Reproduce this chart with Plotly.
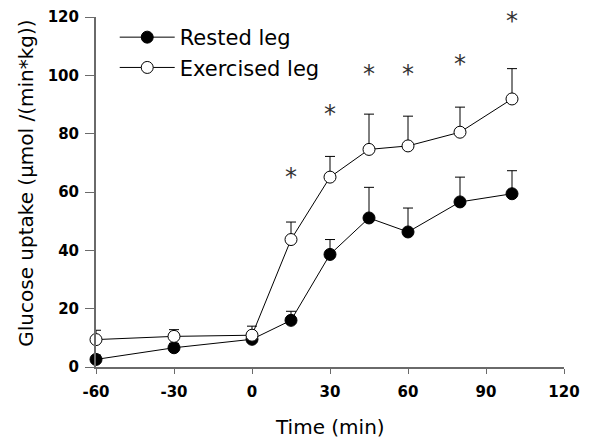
import plotly.graph_objects as go

time_min = [-60, -30, 0, 15, 30, 45, 60, 80, 100]
rested = [2.6, 6.6, 9.5, 16.0, 38.6, 51.1, 46.3, 56.6, 59.4]
rested_sem = [1.5, 1.5, 1.5, 3.1, 5.1, 10.5, 8.2, 8.5, 7.9]
exercised = [9.4, 10.5, 10.9, 43.7, 65.1, 74.6, 75.8, 80.5, 91.9]
exercised_sem = [3.2, 2.3, 3.1, 6.0, 7.1, 12.1, 10.2, 8.6, 10.4]
star_x = [15, 30, 45, 60, 80, 100]
star_y = [66.0, 87.3, 101.0, 101.0, 104.6, 119.4]
x_ticks = [-60, -30, 0, 30, 60, 90, 120]
y_ticks = [0, 20, 40, 60, 80, 100, 120]

FONT = "DejaVu Sans"
AX = "#6a6a6a"

fig = go.Figure()
fig.add_trace(go.Scatter(
    x=time_min, y=rested, mode="lines+markers", name="Rested leg",
    line=dict(color="black", width=1),
    marker=dict(symbol="circle", size=12, color="black", line=dict(color="black", width=1)),
    error_y=dict(type="data", symmetric=False, array=rested_sem,
                 arrayminus=[0] * len(rested_sem), color="black", thickness=1, width=5),
    cliponaxis=False,
))
fig.add_trace(go.Scatter(
    x=time_min, y=exercised, mode="lines+markers", name="Exercised leg",
    line=dict(color="black", width=1),
    marker=dict(symbol="circle", size=12, color="white", line=dict(color="black", width=1)),
    error_y=dict(type="data", symmetric=False, array=exercised_sem,
                 arrayminus=[0] * len(exercised_sem), color="black", thickness=1, width=5),
    cliponaxis=False,
))

for sx, sy in zip(star_x, star_y):
    fig.add_annotation(x=sx, y=sy, text="*", showarrow=False, yanchor="middle",
                       xanchor="center", yshift=-2,
                       font=dict(family=FONT, size=24, color="#333333"))

# axis titles
fig.add_annotation(xref="paper", yref="paper", x=0.5, y=-0.172, text="Time (min)",
                   showarrow=False, xanchor="center", yanchor="middle",
                   font=dict(family=FONT, size=20, color="black"))
fig.add_annotation(xref="paper", yref="paper", x=-0.15, y=0.526,
                   text="Glucose uptake (µmol /(min*kg))", textangle=-90,
                   showarrow=False, xanchor="center", yanchor="middle",
                   font=dict(family=FONT, size=20, color="black"))

fig.update_layout(
    width=581, height=432,
    margin=dict(l=88, r=25, t=9, b=73, autoexpand=False),
    paper_bgcolor="white", plot_bgcolor="white",
    font=dict(family=FONT, color="black"),
    showlegend=True,
    legend=dict(x=0.04, y=1.0, xanchor="left", yanchor="top",
                bgcolor="rgba(0,0,0,0)", font=dict(family=FONT, size=21, color="black"),
                itemwidth=55, tracegroupgap=0),
    xaxis=dict(range=[-60, 120], tickmode="array", tickvals=x_ticks,
               ticktext=[str(v) for v in x_ticks], automargin=False,
               showgrid=False, zeroline=False, showline=True, linecolor=AX, linewidth=2,
               ticks="outside", ticklen=5, tickcolor=AX, tickwidth=1, ticklabelstandoff=5,
               tickfont=dict(family=FONT, size=15, color="black", weight="bold")),
    yaxis=dict(range=[0, 120], tickmode="array", tickvals=y_ticks,
               ticktext=[str(v) for v in y_ticks], automargin=False,
               showgrid=False, zeroline=False, showline=True, linecolor=AX, linewidth=2,
               ticks="outside", ticklen=9, tickcolor=AX, tickwidth=1, ticklabelstandoff=3,
               tickfont=dict(family=FONT, size=15, color="black", weight="bold")),
)

fig.write_html("out.html")
